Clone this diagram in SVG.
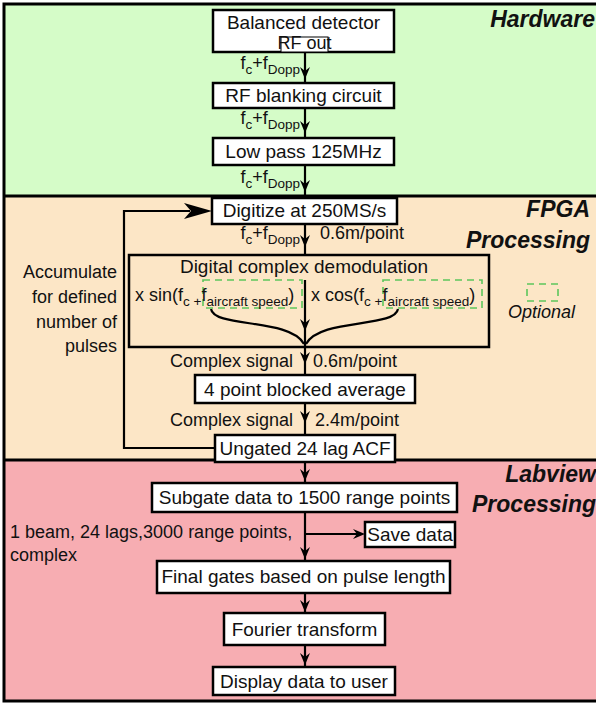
<svg xmlns="http://www.w3.org/2000/svg" width="596" height="703" viewBox="0 0 596 703">
<defs>
<path id="ad" d="M-5,-12 L0,0 L5,-12 L0,-8 z" fill="#000"/>
<path id="ar" d="M-28,-8 L0,0 L-28,8 L-21,0 z" fill="#000"/>
<path id="as" d="M-12,-5 L0,0 L-12,5 L-8,0 z" fill="#000"/>
</defs>
<style>
.box{fill:#fff;stroke:#000;stroke-width:2.5}
.t{font-family:"Liberation Sans",Arial,sans-serif;font-size:18px;fill:#111}
.b{font-size:19px}
.c{text-anchor:middle}
.e{text-anchor:end}
.sub{font-size:13.5px}
.sec{font-family:"Liberation Sans",Arial,sans-serif;font-weight:bold;font-style:italic;font-size:23px;text-anchor:end;fill:#111}
.ln{stroke:#000;stroke-width:2.2;fill:none}
.dash{fill:none;stroke:#5cc65c;stroke-width:1.6;stroke-dasharray:7 5}
</style>
<g id="background">
<rect x="4" y="4" width="594" height="192" fill="#d5fcc8"/>
<rect x="4" y="196" width="594" height="264" fill="#fce6c6"/>
<rect x="4" y="460" width="594" height="241" fill="#f7adb2"/>
<rect x="4" y="4" width="596" height="697" fill="none" stroke="#000" stroke-width="3"/>
<line x1="4" y1="196" x2="596" y2="196" stroke="#000" stroke-width="3"/>
<line x1="4" y1="460" x2="596" y2="460" stroke="#000" stroke-width="3"/>
<text class="sec" x="595" y="27">Hardware</text>
<text class="sec" x="590" y="217">FPGA</text>
<text class="sec" x="590" y="248">Processing</text>
<text class="sec" x="596" y="482">Labview</text>
<text class="sec" x="596" y="512">Processing</text>
</g>
<g id="connectors">
<line class="ln" x1="305" y1="52" x2="305" y2="83"/>
<use href="#ad" x="305" y="79"/>
<line class="ln" x1="305" y1="108" x2="305" y2="138"/>
<use href="#ad" x="305" y="133"/>
<line class="ln" x1="305" y1="165" x2="305" y2="198"/>
<use href="#ad" x="305" y="192"/>
<line class="ln" x1="305" y1="224" x2="305" y2="255"/>
<use href="#ad" x="305" y="247"/>
<line class="ln" x1="305" y1="280" x2="305" y2="375"/>
<use href="#ad" x="305" y="331"/>
<path class="ln" d="M211,309 C214,328 290,318 304,344"/>
<path class="ln" d="M398,309 C395,328 320,318 306,344"/>
<use href="#ad" x="305" y="364"/>
<line class="ln" x1="305" y1="403" x2="305" y2="435"/>
<use href="#ad" x="305" y="423"/>
<polyline class="ln" points="215,448 124,448 124,211 190,211"/>
<use href="#ar" x="212" y="211"/>
<line class="ln" x1="305" y1="462" x2="305" y2="483"/>
<use href="#ad" x="305" y="481"/>
<line class="ln" x1="305" y1="512" x2="305" y2="561"/>
<use href="#ad" x="305" y="559"/>
<line class="ln" x1="305" y1="534" x2="360" y2="534"/>
<use href="#as" x="365" y="534"/>
<line class="ln" x1="305" y1="593" x2="305" y2="613"/>
<use href="#ad" x="305" y="612"/>
<line class="ln" x1="305" y1="645" x2="305" y2="667"/>
<use href="#ad" x="305" y="665"/>
</g>
<g id="labels">
<text class="t e" x="300" y="69">f<tspan class="sub" dy="5">c</tspan><tspan dy="-5">+f</tspan><tspan class="sub" dy="5">Dopp</tspan></text>
<text class="t e" x="300" y="124">f<tspan class="sub" dy="5">c</tspan><tspan dy="-5">+f</tspan><tspan class="sub" dy="5">Dopp</tspan></text>
<text class="t e" x="300" y="183">f<tspan class="sub" dy="5">c</tspan><tspan dy="-5">+f</tspan><tspan class="sub" dy="5">Dopp</tspan></text>
<text class="t e" x="300" y="239">f<tspan class="sub" dy="5">c</tspan><tspan dy="-5">+f</tspan><tspan class="sub" dy="5">Dopp</tspan></text>
<text class="t" x="320" y="239">0.6m/point</text>
<text class="t e" x="293" y="367">Complex signal</text>
<text class="t" x="313" y="367">0.6m/point</text>
<text class="t e" x="293" y="426">Complex signal</text>
<text class="t" x="315" y="426">2.4m/point</text>
<text class="t e" x="117" y="278">Accumulate</text>
<text class="t e" x="117" y="303">for defined</text>
<text class="t e" x="117" y="328">number of</text>
<text class="t e" x="117" y="352">pulses</text>
<text class="t" x="10" y="538">1 beam, 24 lags,3000 range points,</text>
<text class="t" x="10" y="561">complex</text>
</g>
<g id="legend">
<rect class="dash" x="527" y="284" width="31" height="17"/>
<text class="t" x="508" y="318" font-style="italic">Optional</text>
</g>
<g id="balanced-detector">
<rect class="box" x="213" y="10" width="181" height="42"/>
<text class="t b c" x="303.5" y="29">Balanced detector</text>
<rect x="281" y="37" width="47" height="15" fill="#fff" stroke="#000" stroke-width="1"/>
<text class="t c" x="304.5" y="49" font-size="10.5">RF out</text>
</g>
<g id="rf-blanking">
<rect class="box" x="213" y="83" width="181" height="25"/>
<text class="t b c" x="303.5" y="102">RF blanking circuit</text>
</g>
<g id="low-pass">
<rect class="box" x="213" y="138" width="181" height="27"/>
<text class="t b c" x="303.5" y="158">Low pass 125MHz</text>
</g>
<g id="digitize">
<rect class="box" x="212" y="198" width="185" height="26"/>
<text class="t b c" x="304.5" y="217">Digitize at 250MS/s</text>
</g>
<g id="demodulation">
<rect class="box" x="129" y="255" width="360" height="92" fill-opacity="0"/>
<text class="t b c" x="304" y="273">Digital complex demodulation</text>
<rect class="dash" x="203" y="280" width="99" height="28"/>
<rect class="dash" x="383" y="280" width="99" height="28"/>
<text class="t" x="135" y="301">x sin(f<tspan class="sub" dy="5">c +</tspan><tspan dy="-5">f</tspan><tspan class="sub" dy="5">aircraft speed</tspan><tspan dy="-5">)</tspan></text>
<text class="t" x="311" y="301">x cos(f<tspan class="sub" dy="5">c +</tspan><tspan dy="-5">f</tspan><tspan class="sub" dy="5">aircraft speed</tspan><tspan dy="-5">)</tspan></text>
</g>
<g id="block-average">
<rect class="box" x="195" y="375" width="220" height="28"/>
<text class="t b c" x="305" y="396">4 point blocked average</text>
</g>
<g id="acf">
<rect class="box" x="215" y="435" width="180" height="27"/>
<text class="t b c" x="305" y="455">Ungated 24 lag ACF</text>
</g>
<g id="subgate">
<rect class="box" x="152" y="483" width="305" height="29"/>
<text class="t b c" x="304.5" y="504">Subgate data to 1500 range points</text>
</g>
<g id="save-data">
<rect class="box" x="365" y="522" width="90" height="25"/>
<text class="t b c" x="410" y="541">Save data</text>
</g>
<g id="final-gates">
<rect class="box" x="157" y="561" width="293" height="32"/>
<text class="t b c" x="303.5" y="583">Final gates based on pulse length</text>
</g>
<g id="fourier">
<rect class="box" x="224" y="613" width="161" height="32"/>
<text class="t b c" x="304.5" y="636">Fourier transform</text>
</g>
<g id="display">
<rect class="box" x="213" y="667" width="182" height="28"/>
<text class="t b c" x="304" y="688">Display data to user</text>
</g>
</svg>
